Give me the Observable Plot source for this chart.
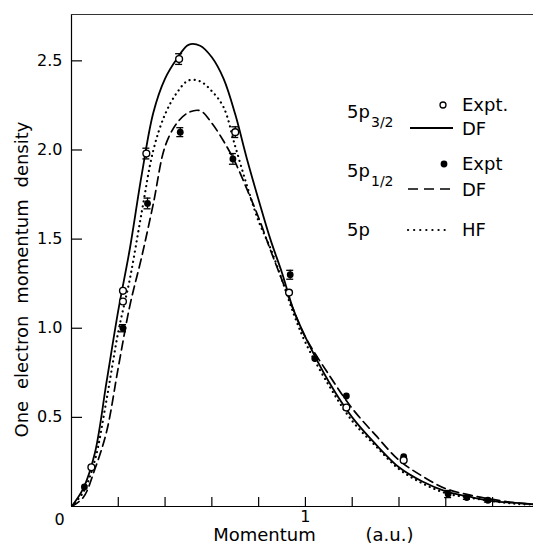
<!DOCTYPE html>
<html><head><meta charset="utf-8">
<script src="https://cdn.jsdelivr.net/npm/d3@7"></script>
<script src="https://cdn.jsdelivr.net/npm/@observablehq/plot@0.6"></script>
<style>
body{margin:0;background:#fff}
#chart svg{font-family:"DejaVu Sans",sans-serif;}
</style>
</head><body><div id="chart"></div>
<script>
// Momentum grid (a.u.) for the theoretical curves
const momentum = [0, 0.05, 0.1, 0.15, 0.2, 0.25, 0.3, 0.35, 0.4, 0.45, 0.5, 0.55, 0.6, 0.65, 0.7, 0.75, 0.8, 0.85, 0.9, 0.95, 1.0, 1.1, 1.2, 1.3, 1.4, 1.5, 1.6, 1.7, 1.8, 1.9, 2.0];
// 5p3/2 Dirac-Fock (solid)
const df32 = [0, 0.10, 0.30, 0.70, 1.10, 1.45, 1.86, 2.21, 2.40, 2.51, 2.59, 2.585, 2.52, 2.40, 2.20, 1.95, 1.72, 1.50, 1.31, 1.10, 0.95, 0.70, 0.50, 0.35, 0.22, 0.14, 0.085, 0.055, 0.03, 0.02, 0.01];
// 5p1/2 Dirac-Fock (dashed)
const df12 = [0, 0.05, 0.21, 0.42, 0.78, 1.13, 1.40, 1.70, 2.02, 2.15, 2.21, 2.22, 2.15, 2.05, 1.93, 1.78, 1.62, 1.44, 1.27, 1.10, 0.95, 0.74, 0.55, 0.40, 0.26, 0.17, 0.10, 0.065, 0.04, 0.02, 0.01];
// 5p Hartree-Fock (dotted)
const hf = [0, 0.08, 0.26, 0.60, 0.98, 1.28, 1.65, 2.00, 2.20, 2.32, 2.39, 2.385, 2.33, 2.24, 2.02, 1.80, 1.60, 1.45, 1.27, 1.08, 0.92, 0.68, 0.48, 0.34, 0.21, 0.13, 0.075, 0.05, 0.03, 0.015, 0.01];

// Experimental points, 5p3/2 (open circles)
const expt32X = [0.085, 0.22, 0.22, 0.32, 0.46, 0.70, 0.93, 1.175, 1.42];
const expt32Y = [0.22, 1.21, 1.15, 1.98, 2.51, 2.10, 1.20, 0.555, 0.26];
const expt32Err = [0, 0, 0, 0.03, 0.03, 0.03, 0, 0, 0];
// Experimental points, 5p1/2 (filled circles)
const expt12X = [0.055, 0.22, 0.325, 0.465, 0.69, 0.935, 1.04, 1.175, 1.42, 1.61, 1.69, 1.78];
const expt12Y = [0.11, 1.00, 1.70, 2.10, 1.95, 1.30, 0.83, 0.62, 0.28, 0.07, 0.05, 0.035];
const expt12Err = [0, 0.02, 0.03, 0.025, 0.03, 0.025, 0, 0, 0, 0.02, 0.01, 0.01];

// Axis ticks
const xTicks = [0.2, 0.4, 0.6, 0.8, 1.0, 1.2, 1.4, 1.6, 1.8];
const xLabelTicks = [1];
const yTicks = [0.5, 1.0, 1.5, 2.0, 2.5];
const yMax = 2.76;
const xMax = 1.975;

const yLabel = "One electron momentum density";
const xLabel = "Momentum";
const xUnit = "(a.u.)";

// Legend
const legendState = ["5p", "5p", "5p"];
const legendSub = ["3/2", "1/2", ""];
const legendExpt = ["Expt.", "Expt", ""];
const legendTheory = ["DF", "DF", "HF"];

const curves = momentum.map((p, i) => ({p, df32: df32[i], df12: df12[i], hf: hf[i]}));
const pts32 = expt32X.map((x, i) => ({x, y: expt32Y[i], e: expt32Err[i]}));
const pts12 = expt12X.map((x, i) => ({x, y: expt12Y[i], e: expt12Err[i]}));
const errs = [...pts32, ...pts12].filter(d => d.e > 0);

const plot = Plot.plot({
  width: 533, height: 548,
  marginLeft: 71, marginRight: 0, marginTop: 14, marginBottom: 42,
  x: {domain: [0, xMax]},
  y: {domain: [0, yMax]},
  style: {fontFamily: "DejaVu Sans", fontSize: "16px", color: "black", background: "white"},
  marks: [
    Plot.ruleX([0], {stroke: "black", strokeWidth: 1.2}),
    Plot.ruleY([0], {stroke: "black", strokeWidth: 1.2}),
    Plot.ruleY([yMax], {stroke: "#333", strokeWidth: 1}),
    Plot.axisY({ticks: yTicks, tickSize: -11, tickFormat: () => "", label: null, strokeWidth: 1.2}),
    Plot.axisY({ticks: yTicks, tickSize: 0, tickPadding: 9, tickFormat: d3.format(".1f"), label: null, fontSize: 16}),
    Plot.axisX({ticks: xTicks, tickSize: -9, tickFormat: () => "", label: null, strokeWidth: 1.2}),
    Plot.axisX({ticks: xLabelTicks, tickSize: 0, tickPadding: 4, tickFormat: d => String(d), label: null, fontSize: 16}),
    Plot.text([{x: 0, y: 0, t: "0"}], {x: "x", y: "y", text: "t", dx: -12, dy: 13, fontSize: 16, lineAnchor: "middle"}),
    Plot.text([yLabel], {frameAnchor: "left", rotate: -90, dx: -49, dy: 19, fontSize: 18, lineAnchor: "middle", textAnchor: "middle"}),
    Plot.text([xLabel], {frameAnchor: "bottom", dx: -38, dy: 29, fontSize: 18, lineAnchor: "middle"}),
    Plot.text([xUnit], {frameAnchor: "bottom", dx: 87, dy: 29, fontSize: 18, lineAnchor: "middle"}),
    Plot.line(curves, {x: "p", y: "hf", stroke: "black", strokeWidth: 2.2, strokeDasharray: "0.1,5", strokeLinecap: "round", curve: "catmull-rom", clip: true}),
    Plot.line(curves, {x: "p", y: "df12", stroke: "black", strokeWidth: 1.7, strokeDasharray: "9,5", curve: "catmull-rom", clip: true}),
    Plot.line(curves, {x: "p", y: "df32", stroke: "black", strokeWidth: 1.8, curve: "catmull-rom", clip: true}),
    Plot.ruleX(errs, {x: "x", y1: d => d.y - d.e, y2: d => d.y + d.e, stroke: "black", strokeWidth: 1.3}),
    Plot.ruleY(errs, {y: d => d.y + d.e, x1: "x", x2: "x", insetLeft: -3.5, insetRight: -3.5, stroke: "black", strokeWidth: 1.3}),
    Plot.ruleY(errs, {y: d => d.y - d.e, x1: "x", x2: "x", insetLeft: -3.5, insetRight: -3.5, stroke: "black", strokeWidth: 1.3}),
    Plot.dot(pts12, {x: "x", y: "y", r: 3.4, fill: "black", stroke: "none"}),
    Plot.dot(pts32, {x: "x", y: "y", r: 3.4, fill: "white", stroke: "black", strokeWidth: 1.4})
  ]
});
document.getElementById("chart").appendChild(plot);

const svg = d3.select(plot);
// wider word gaps in the y-axis title, as in the original
svg.selectAll("text").filter(function() { return this.textContent === yLabel; }).style("word-spacing", "6px");

// Legend drawn inside the plot area
const lg = svg.append("g").attr("font-family", "DejaVu Sans").attr("fill", "black").attr("text-anchor", "start");
const rowY = [118, 177, 236];
legendState.forEach((s, i) => {
  lg.append("text").attr("x", 347).attr("y", rowY[i]).attr("font-size", 18).text(s);
  if (legendSub[i]) lg.append("text").attr("x", 371).attr("y", rowY[i] + 9).attr("font-size", 14).text(legendSub[i]);
});
lg.append("circle").attr("cx", 443).attr("cy", 105).attr("r", 3).attr("fill", "white").attr("stroke", "black").attr("stroke-width", 1.3);
lg.append("text").attr("x", 462).attr("y", 111).attr("font-size", 18).text(legendExpt[0]);
lg.append("line").attr("x1", 410).attr("x2", 453).attr("y1", 128).attr("y2", 128).attr("stroke", "black").attr("stroke-width", 1.8);
lg.append("text").attr("x", 462).attr("y", 135).attr("font-size", 18).text(legendTheory[0]);
lg.append("circle").attr("cx", 444).attr("cy", 164).attr("r", 3.4).attr("fill", "black");
lg.append("text").attr("x", 462).attr("y", 170).attr("font-size", 18).text(legendExpt[1]);
lg.append("line").attr("x1", 408).attr("x2", 453).attr("y1", 189).attr("y2", 189).attr("stroke", "black").attr("stroke-width", 1.7).attr("stroke-dasharray", "10,6");
lg.append("text").attr("x", 462).attr("y", 196).attr("font-size", 18).text(legendTheory[1]);
lg.append("line").attr("x1", 408).attr("x2", 449).attr("y1", 230).attr("y2", 230).attr("stroke", "black").attr("stroke-width", 2.2).attr("stroke-dasharray", "0.1,6").attr("stroke-linecap", "round");
lg.append("text").attr("x", 462).attr("y", 236).attr("font-size", 18).text(legendTheory[2]);
</script>
</body></html>
